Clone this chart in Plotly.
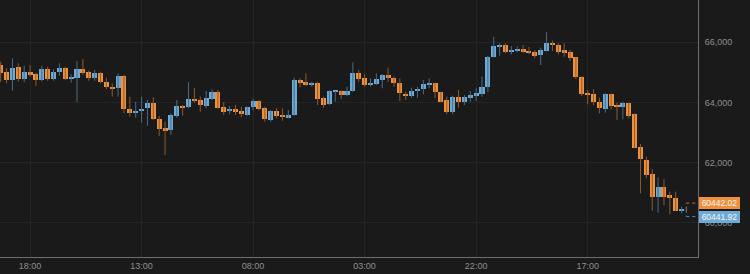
import plotly.graph_objects as go
import pandas as pd

# ---------------- data (hourly candles) ----------------
start_time = "2024-08-20 13:00"
opens = [65246, 65003, 64748, 65179, 64771, 65023, 64937, 64748, 65123, 64771,
         65003, 65156, 64781, 64804, 65103, 65003, 64804, 64980, 64691, 64515,
         64472, 64890, 63774, 63651, 63741, 63817, 63984, 63462, 63143, 63077,
         63562, 63894, 63841, 64126, 64073, 63894, 64116, 64349, 63851, 63708,
         63784, 63718, 63575, 63841, 64040, 63807, 63429, 63718, 63575, 63495,
         63585, 64738, 64681, 64591, 64658, 64140, 63940, 64349, 64372, 64249,
         64372, 64980, 64804, 64605, 64625, 64748, 64914, 64824, 64638, 64292,
         64226, 64382, 64439, 64591, 64648, 64349, 64083, 63695, 64183, 64017,
         64160, 64216, 64282, 64505, 65522, 65867, 65910, 65678, 65701, 65777,
         65721, 65668, 65578, 65721, 65987, 65910, 65744, 65668, 65502, 64857,
         64306, 64282, 64027, 63794, 64282, 63917, 63841, 63974, 63608, 62532,
         62090, 61615, 60871, 61203, 60927, 60818, 60420]
highs = [65356, 65136, 65468, 65302, 65223, 65246, 64990, 65213, 65189, 65103,
         65302, 65189, 64937, 65379, 65445, 65057, 65080, 65023, 64824, 64638,
         64970, 64914, 64193, 64027, 64193, 64083, 64173, 63552, 63362, 63641,
         64083, 63917, 64681, 64482, 64193, 64382, 64439, 64415, 64017, 63884,
         63917, 63861, 63861, 64126, 64083, 63861, 63751, 63807, 63807, 63751,
         64824, 64804, 64970, 64691, 64691, 64193, 64405, 64382, 64415, 64525,
         65336, 65080, 64937, 64804, 64970, 64947, 65156, 64857, 64804, 64359,
         64492, 64525, 64748, 64804, 64660, 64359, 64193, 64226, 64415, 64249,
         64382, 64472, 64857, 65545, 66186, 65967, 65967, 65877, 65867, 65910,
         65844, 65744, 65821, 66332, 66053, 65967, 65967, 65744, 65510, 64880,
         64415, 64439, 64160, 64306, 64290, 63994, 64027, 63994, 63641, 62622,
         62200, 61791, 61515, 61449, 61037, 61037, 60540]
lows = [64681, 64638, 64392, 64691, 64671, 64857, 64548, 64704, 64724, 64724,
        64880, 64748, 64658, 64027, 64914, 64724, 64724, 64638, 64439, 64193,
        64193, 63641, 63528, 63495, 63329, 63229, 63419, 62887, 62256, 62920,
        63495, 63562, 63807, 63994, 63695, 63807, 64083, 63794, 63585, 63608,
        63585, 63508, 63552, 63741, 63741, 63362, 63362, 63475, 63396, 63475,
        63552, 64505, 64548, 64515, 63917, 63827, 63917, 64027, 64116, 64206,
        64359, 64691, 64525, 64525, 64582, 64472, 64691, 64525, 64050, 64083,
        64160, 64160, 64273, 64472, 64140, 64007, 63608, 63608, 63827, 63917,
        64027, 64050, 64193, 64339, 65500, 65555, 65635, 65601, 65668, 65655,
        65601, 65468, 65246, 65688, 65711, 65601, 65522, 65379, 64781, 64216,
        63940, 63917, 63641, 63661, 63774, 63419, 63442, 63475, 62479, 60984,
        61482, 60406, 60339, 60595, 60286, 60390, 60320]
closes = [64970, 64748, 65156, 64781, 65023, 64914, 64748, 65123, 64791, 65023,
          65156, 64771, 64824, 65103, 64990, 64804, 64980, 64671, 64515, 64459,
          64890, 63774, 63641, 63728, 63794, 63984, 63442, 63130, 63063, 63595,
          63884, 63841, 64126, 64050, 63917, 64140, 64349, 63827, 63695, 63784,
          63695, 63608, 63841, 64040, 63774, 63452, 63718, 63542, 63518, 63585,
          64738, 64658, 64591, 64658, 64126, 63917, 64372, 64382, 64259, 64382,
          64970, 64781, 64591, 64648, 64771, 64914, 64804, 64638, 64326, 64239,
          64382, 64459, 64605, 64648, 64359, 64027, 63695, 64183, 64017, 64183,
          64249, 64306, 64525, 65522, 65887, 65910, 65668, 65744, 65777, 65688,
          65645, 65545, 65754, 65987, 65910, 65688, 65645, 65468, 64837, 64282,
          64266, 64017, 63807, 64282, 63884, 63861, 63974, 63552, 62499, 62113,
          61592, 60851, 61203, 60871, 60818, 60406, 60441.92]

last_price_labels = [60442.02, 60441.92]

# ---------------- styles ----------------
BG = "#1a1a1a"
GRID = "#242424"
UP = "#6eaad6"
DOWN = "#ef913c"
UP_WICK = "#466c88"
DOWN_WICK = "#8c5a2c"
TXT = "#8e8e8e"
FONT = "Liberation Sans, Arial, sans-serif"

HOUR = pd.Timedelta(hours=1)
times = pd.date_range(start_time, periods=len(opens), freq="h")

# wick traces
def wick_xy(up):
    xs, ys = [], []
    for t, o, h, l, c in zip(times, opens, highs, lows, closes):
        if (c >= o) == up:
            xs += [t, t, None]
            ys += [l, h, None]
    return xs, ys

fig = go.Figure()
for up, col in [(True, UP_WICK), (False, DOWN_WICK)]:
    wx, wy = wick_xy(up)
    fig.add_trace(go.Scatter(x=wx, y=wy, mode="lines", line=dict(color=col, width=1),
                             hoverinfo="skip", showlegend=False, connectgaps=False))

base = [min(o, c) for o, c in zip(opens, closes)]
height = [abs(c - o) for o, c in zip(opens, closes)]
colors = [UP if c >= o else DOWN for o, c in zip(opens, closes)]
fig.add_trace(go.Bar(x=times, y=height, base=base, width=0.86 * 3600000,
                     marker=dict(color=colors, line=dict(width=0)),
                     hoverinfo="skip", showlegend=False))

x_left = times[0] - 0.12 * HOUR
x_right = times[0] + 118.8 * HOUR

# last price dashed connectors + labels
t_last = times[-1]
lbl_cols = [DOWN, UP]
dash_cols = ["#b8763a", "#5b8db3"]
shifts = [6.5, -7]
for val, col, dcol, sh in zip(last_price_labels, lbl_cols, dash_cols, shifts):
    fig.add_shape(type="line", xref="x", yref="y", ysizemode="pixel", yanchor=val,
                  x0=t_last + 0.8 * HOUR, x1=x_right, y0=sh, y1=sh,
                  line=dict(color=dcol, width=1, dash="3px,3px"))
    fig.add_shape(type="line", xref="x", yref="y", ysizemode="pixel", yanchor=val,
                  x0=t_last + 0.8 * HOUR, x1=t_last + 0.8 * HOUR, y0=0, y1=sh,
                  line=dict(color=dcol, width=1, dash="3px,3px"))
    fig.add_annotation(xref="paper", x=1, xanchor="left", xshift=1,
                       yref="y", y=val, yanchor="middle", yshift=sh,
                       text=f"{val:.2f}", showarrow=False,
                       font=dict(family=FONT, size=8.5, color="#f4f4f4"),
                       bgcolor=col, borderpad=0, borderwidth=1, bordercolor=col,
                       width=39, height=10, align="center")

fig.update_layout(
    width=750, height=274,
    margin=dict(l=0, r=52, t=0, b=17),
    paper_bgcolor=BG, plot_bgcolor=BG,
    barmode="overlay", bargap=0,
    showlegend=False,
    font=dict(family=FONT, size=9, color=TXT),
)
fig.update_xaxes(
    type="date", range=[x_left, x_right],
    tick0=str(times[5]), dtick=19 * 3600000, tickformat="%H:%M",
    showgrid=True, gridcolor=GRID, gridwidth=1,
    showline=True, linecolor="#6e6e6e", linewidth=1,
    ticks="", zeroline=False, tickfont=dict(size=9, color=TXT),
    rangeslider=dict(visible=False),
)
fig.update_yaxes(
    side="right", range=[58867, 67405], dtick=2000, tickformat=",",
    showgrid=True, gridcolor=GRID, gridwidth=1,
    showline=True, linecolor="#6e6e6e", linewidth=1,
    ticks="", zeroline=False, tickfont=dict(size=9, color=TXT),
    ticklabelstandoff=4,
)

fig.write_html("out.html")
